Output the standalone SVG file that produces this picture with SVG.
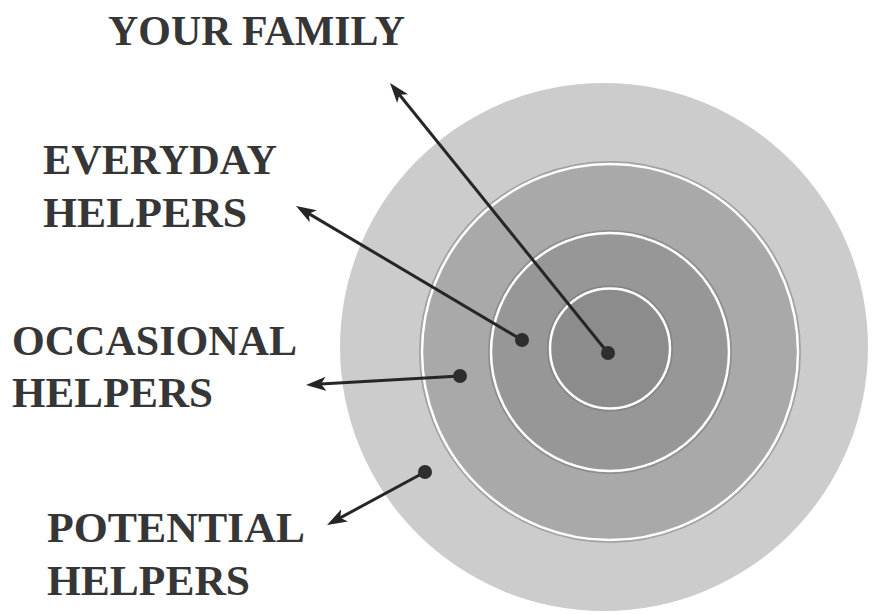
<svg xmlns="http://www.w3.org/2000/svg" width="877" height="614" viewBox="0 0 877 614">
<style>
.lbl{font-family:"Liberation Serif","Times New Roman",serif;font-weight:bold;font-size:42px;fill:#363636}
.ring{stroke:#ffffff;stroke-width:2.5}
.shadow{fill:none;stroke:#6e6e6e;stroke-width:6;opacity:0.45}
.conn{stroke:#262626;stroke-width:3;fill:none;marker-end:url(#ah)}
.dot{fill:#2e2e2e}
</style>
<defs>
<marker id="ah" viewBox="0 0 20 16" refX="14" refY="8" markerWidth="20" markerHeight="16" markerUnits="userSpaceOnUse" orient="auto">
<path d="M0,1 L20,8 L0,15 L5,8 z" fill="#262626"/>
</marker>
</defs>
<rect width="877" height="614" fill="#ffffff"/>
<g id="potential-ring">
<circle cx="604" cy="347" r="264" fill="#cccccc"/>
</g>
<g id="occasional-ring">
<circle cx="610" cy="352" r="188" class="shadow"/>
<circle cx="610" cy="352" r="188" fill="#a9a9a9" class="ring"/>
</g>
<g id="everyday-ring">
<circle cx="610" cy="352" r="119" class="shadow"/>
<circle cx="610" cy="352" r="119" fill="#979797" class="ring"/>
</g>
<g id="family-ring">
<circle cx="610" cy="348.5" r="60" class="shadow"/>
<circle cx="610" cy="348.5" r="60" fill="#8c8c8c" class="ring"/>
</g>
<g id="connectors">
<line x1="608" y1="353" x2="393.8" y2="87.7" class="conn"/>
<line x1="522" y1="340" x2="301.2" y2="209.1" class="conn"/>
<line x1="460" y1="376" x2="312" y2="384.6" class="conn"/>
<line x1="425" y1="472" x2="332.3" y2="522.1" class="conn"/>
<circle cx="608" cy="353" r="7" class="dot"/>
<circle cx="522" cy="340" r="7" class="dot"/>
<circle cx="460" cy="376" r="7" class="dot"/>
<circle cx="425" cy="472" r="7" class="dot"/>
</g>
<g id="label-family">
<text class="lbl" x="108" y="45" textLength="297" lengthAdjust="spacingAndGlyphs">YOUR FAMILY</text>
</g>
<g id="label-everyday">
<text class="lbl" x="43" y="174" textLength="234" lengthAdjust="spacingAndGlyphs">EVERYDAY</text>
<text class="lbl" x="43" y="227" textLength="204" lengthAdjust="spacingAndGlyphs">HELPERS</text>
</g>
<g id="label-occasional">
<text class="lbl" x="12" y="355" textLength="285" lengthAdjust="spacingAndGlyphs">OCCASIONAL</text>
<text class="lbl" x="12" y="407" textLength="201" lengthAdjust="spacingAndGlyphs">HELPERS</text>
</g>
<g id="label-potential">
<text class="lbl" x="47" y="542" textLength="258" lengthAdjust="spacingAndGlyphs">POTENTIAL</text>
<text class="lbl" x="47" y="595" textLength="203" lengthAdjust="spacingAndGlyphs">HELPERS</text>
</g>
</svg>
